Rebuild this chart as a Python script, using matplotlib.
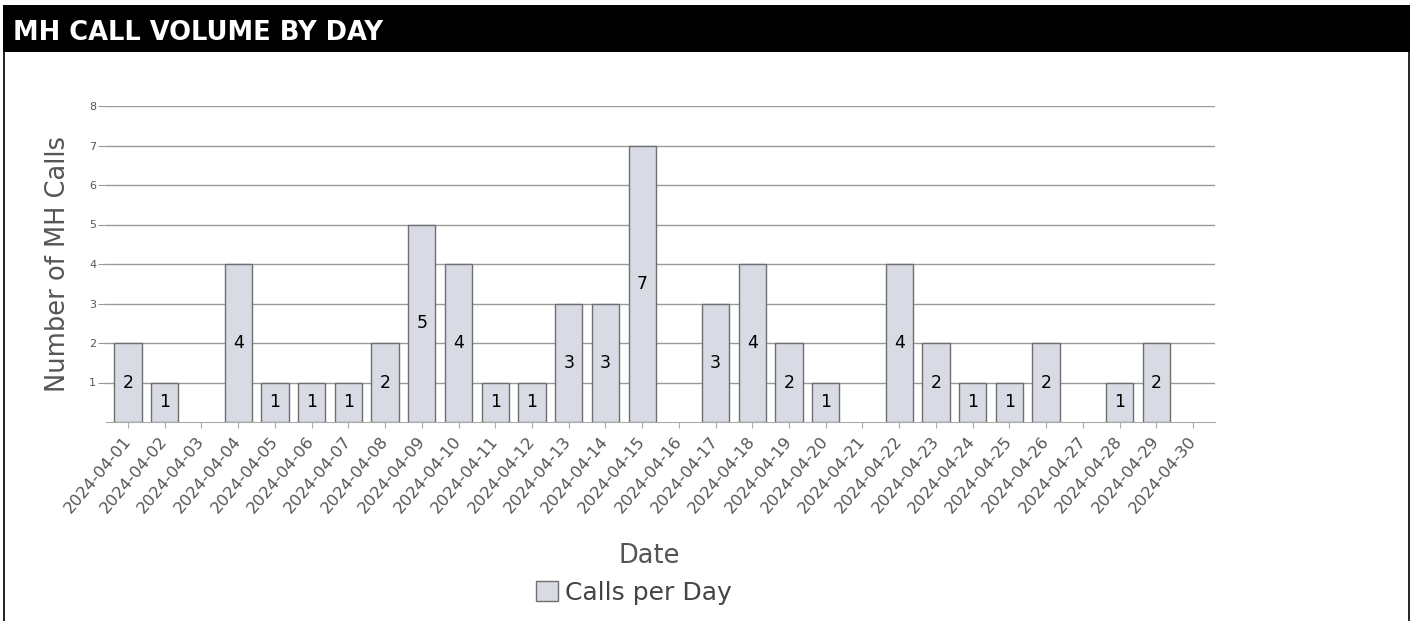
import matplotlib
matplotlib.use("Agg")
import matplotlib.pyplot as plt
from matplotlib.patches import Rectangle
from matplotlib.lines import Line2D

plt.rcParams["font.family"] = ["DejaVu Sans"]

dates = ["2024-04-%02d" % d for d in range(1, 31)]
calls = [2, 1, 0, 4, 1, 1, 1, 2, 5, 4, 1, 1, 3, 3, 7, 0, 3, 4, 2, 1, 0, 4, 2, 1, 1, 2, 0, 1, 2, 0]
yticks = [1, 2, 3, 4, 5, 6, 7, 8]

W, H = 1411, 621
fig = plt.figure(figsize=(W / 100, H / 100), dpi=100)

# title bar and frame
fig.patches.append(Rectangle((3 / W, 1 - 52 / H), (1410 - 3) / W, 47 / H, transform=fig.transFigure,
                             facecolor="black", edgecolor="none"))
fig.text(13 / W, 1 - 33 / H, "MH CALL VOLUME BY DAY", color="white", fontsize=18.5,
         fontweight="bold", va="center", ha="left")
fig.add_artist(Line2D([4 / W, 4 / W], [0, 1 - 50 / H], transform=fig.transFigure,
                      color="black", lw=1.2))
fig.add_artist(Line2D([1409 / W, 1409 / W], [0, 1 - 50 / H], transform=fig.transFigure,
                      color="black", lw=1.2))

ax = fig.add_axes([106 / W, 1 - 422 / H, (1215 - 106) / W, (422 - 106) / H])
x = list(range(len(dates)))
bars = ax.bar(x, calls, width=0.74, color="#d8dbe3", edgecolor="#6f6f6f", linewidth=1,
              zorder=3, label="Calls per Day")
for b, v in zip(bars, calls):
    if v == 0:
        b.set_linewidth(0)
for xi, v in zip(x, calls):
    if v > 0:
        ax.text(xi, v / 2, str(v), ha="center", va="center", fontsize=12.5, color="black", zorder=4)

ax.set_xlim(-0.6, len(dates) - 0.4)
ax.set_ylim(0, 8)
ax.set_yticks(yticks)
ax.set_yticklabels([str(t) for t in yticks], fontsize=8, color="#555555")
ax.set_xticks(x)
ax.set_xticklabels(dates, rotation=50, ha="right", va="center", rotation_mode="anchor",
                   fontsize=11.8, color="#555555")
ax.grid(axis="y", color="#999999", linewidth=1, zorder=0)
for s in ["top", "right", "left"]:
    ax.spines[s].set_visible(False)
ax.spines["bottom"].set_color("#aaaaaa")
ax.tick_params(axis="x", length=4, color="#aaaaaa", pad=8)
ax.tick_params(axis="y", length=6, color="#999999", pad=1)
ax.set_ylabel("Number of MH Calls", fontsize=18.5, color="#555555")
ax.yaxis.set_label_coords(-0.032, 0.5)
ax.set_xlabel("Date", fontsize=18.5, color="#555555")
ax.xaxis.set_label_coords(0.49, -0.383)
leg = fig.legend(handles=[bars], labels=["Calls per Day"], loc="center",
                 bbox_to_anchor=(634 / W, 1 - 593 / H), frameon=False, fontsize=18,
                 handlelength=0.85, handleheight=0.85, handletextpad=0.3, labelcolor="#444444",
                 borderpad=0, borderaxespad=0)

fig.savefig("out.png", dpi=100, facecolor="white")
